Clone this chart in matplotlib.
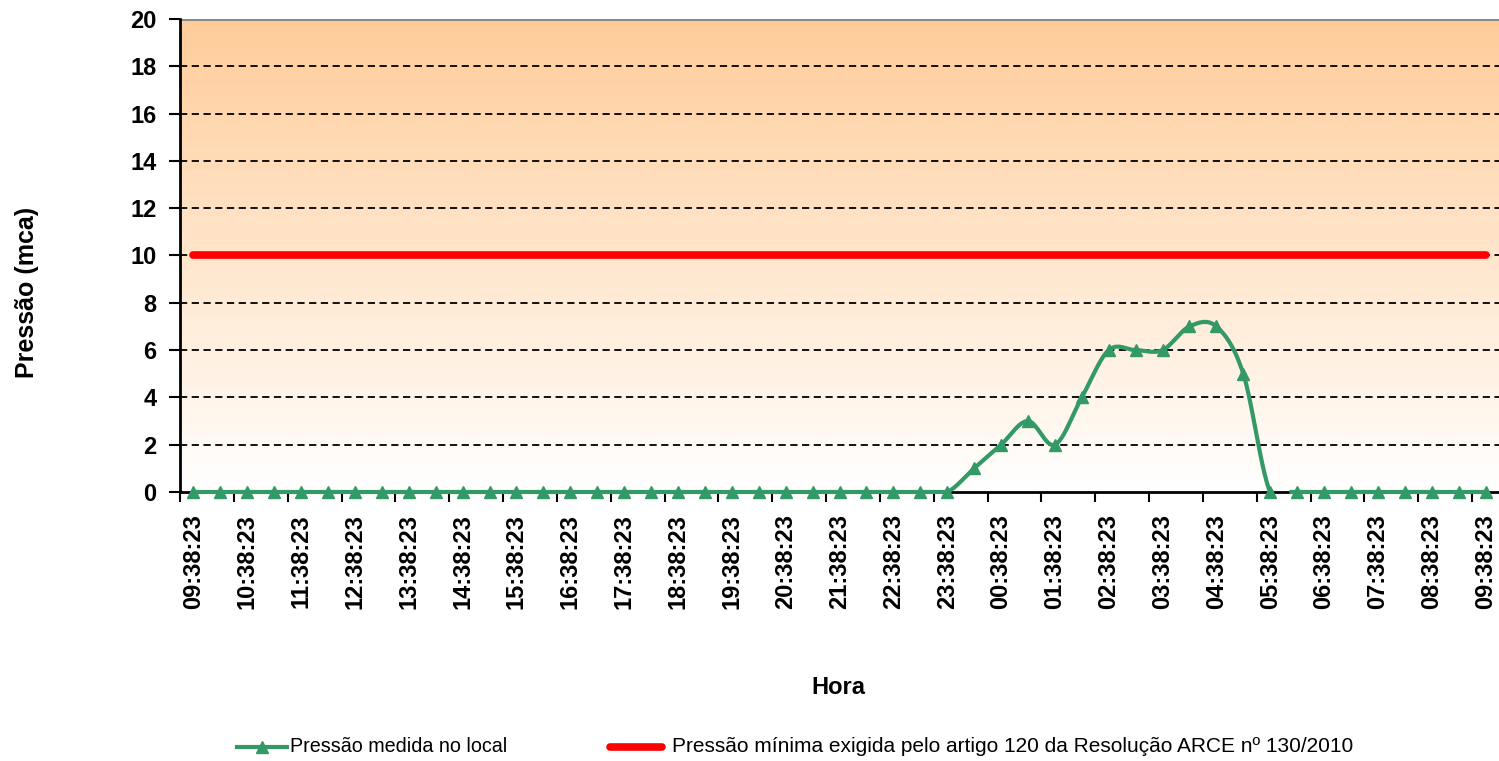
import numpy as np
import matplotlib
matplotlib.use("Agg")
import matplotlib.pyplot as plt
from matplotlib.lines import Line2D
from matplotlib.colors import LinearSegmentedColormap

# ---- data ----
hours = [9, 10, 11, 12, 13, 14, 15, 16, 17, 18, 19, 20, 21, 22, 23,
         0, 1, 2, 3, 4, 5, 6, 7, 8, 9]
tick_labels = ["%02d:38:23" % h for h in hours]
pressure = [0, 0, 0, 0, 0, 0, 0, 0, 0, 0,
            0, 0, 0, 0, 0, 0, 0, 0, 0, 0,
            0, 0, 0, 0, 0, 0, 0, 0, 0, 1,
            2, 3, 2, 4, 6, 6, 6, 7, 7, 5,
            0, 0, 0, 0, 0, 0, 0, 0, 0]
min_pressure = [10] * len(pressure)
series_names = ["Pressão medida no local",
                "Pressão mínima exigida pelo artigo 120 da Resolução ARCE nº 130/2010"]

plt.rcParams['font.family'] = ['Liberation Sans', 'DejaVu Sans']

W, H = 1499, 761
fig = plt.figure(figsize=(W / 100, H / 100), dpi=100)
ax = fig.add_axes([180 / W, 1 - 492 / H, 1 - 180 / W, (492 - 19) / H])

n = len(pressure)
x = np.arange(n)
ax.set_xlim(-0.5, n - 0.5)
ax.set_ylim(0, 20)

# gradient background
cmap = LinearSegmentedColormap.from_list("g", ["#FFFFFF", "#FFCC99"])
grad = np.linspace(0, 1, 256).reshape(-1, 1)
ax.imshow(grad, extent=(-0.5, n - 0.5, 0, 20), origin='lower', aspect='auto',
          cmap=cmap, zorder=0)

# grid
for yv in range(2, 20, 2):
    ax.axhline(yv, color='black', lw=1.3, ls=(0, (4, 2.5)), zorder=1)
ax.axhline(20, color='#888888', lw=2.2, zorder=1)


# smoothed line (Excel-like Catmull-Rom bezier)
def smooth(xs, ys, steps=24):
    xs = np.asarray(xs, float)
    ys = np.asarray(ys, float)
    outx, outy = [], []
    m = len(xs)
    for i in range(m - 1):
        p0 = (xs[max(i - 1, 0)], ys[max(i - 1, 0)])
        p1 = (xs[i], ys[i])
        p2 = (xs[i + 1], ys[i + 1])
        p3 = (xs[min(i + 2, m - 1)], ys[min(i + 2, m - 1)])
        c1 = (p1[0] + (p2[0] - p0[0]) / 6, p1[1] + (p2[1] - p0[1]) / 6)
        c2 = (p2[0] - (p3[0] - p1[0]) / 6, p2[1] - (p3[1] - p1[1]) / 6)
        t = np.linspace(0, 1, steps, endpoint=(i == m - 2))
        bx = (1 - t) ** 3 * p1[0] + 3 * (1 - t) ** 2 * t * c1[0] + 3 * (1 - t) * t ** 2 * c2[0] + t ** 3 * p2[0]
        by = (1 - t) ** 3 * p1[1] + 3 * (1 - t) ** 2 * t * c1[1] + 3 * (1 - t) * t ** 2 * c2[1] + t ** 3 * p2[1]
        outx.extend(bx)
        outy.extend(by)
    return np.array(outx), np.array(outy)


green = '#339966'
sx, sy = smooth(x, pressure)
sy = np.where(sy < -0.1, np.nan, np.maximum(sy, 0))  # Excel hides the part below the axis
ax.plot(sx, sy, color=green, lw=3, zorder=3, clip_on=False)
ax.plot(x, pressure, ls='none', marker='^', ms=8, color=green, zorder=4, clip_on=False)
ax.plot(x, min_pressure, color='#FF0000', lw=5.5, solid_capstyle='round', zorder=3)

# axes styling
for s in ['top', 'right']:
    ax.spines[s].set_visible(False)
ax.spines['left'].set_linewidth(2)
ax.spines['bottom'].set_linewidth(2)
ax.spines['left'].set_zorder(2.5)
ax.spines['bottom'].set_zorder(2.5)

ax.set_yticks(range(0, 21, 2))
ax.tick_params(axis='y', length=8, width=1.5, labelsize=17, pad=9)
for lab in ax.get_yticklabels():
    lab.set_fontweight('bold')

ax.set_xticks(np.arange(-0.5, n, 2), minor=False)
ax.set_xticklabels([])
ax.tick_params(axis='x', which='major', length=7, width=1.5)
ax.set_xticks(np.arange(0, n, 2), minor=True)
ax.set_xticklabels(tick_labels, minor=True, rotation=90, fontsize=17, fontweight='bold')
ax.tick_params(axis='x', which='minor', length=0, pad=16)

fig.text(27 / W, 1 - 292 / H, "Pressão (mca)", rotation=90, ha='center', va='center',
         fontsize=18, fontweight='bold')
fig.text(838 / W, 1 - 688 / H, "Hora", ha='center', va='center',
         fontsize=17, fontweight='bold')

# legend, placed by hand
ly = 1 - 747 / H
fig.add_artist(Line2D([237 / W, 287 / W], [ly, ly], color=green, lw=3, transform=fig.transFigure))
fig.add_artist(Line2D([262 / W], [ly], color=green, marker='^', ms=8, ls='none',
                      transform=fig.transFigure))
fig.text(290 / W, ly, series_names[0], ha='left', va='center', fontsize=14.2)
fig.add_artist(Line2D([610 / W, 662 / W], [ly, ly], color='#FF0000', lw=5.5,
                      solid_capstyle='round', transform=fig.transFigure))
fig.text(672 / W, ly, series_names[1], ha='left', va='center', fontsize=15)

fig.savefig("out.png", dpi=100)
